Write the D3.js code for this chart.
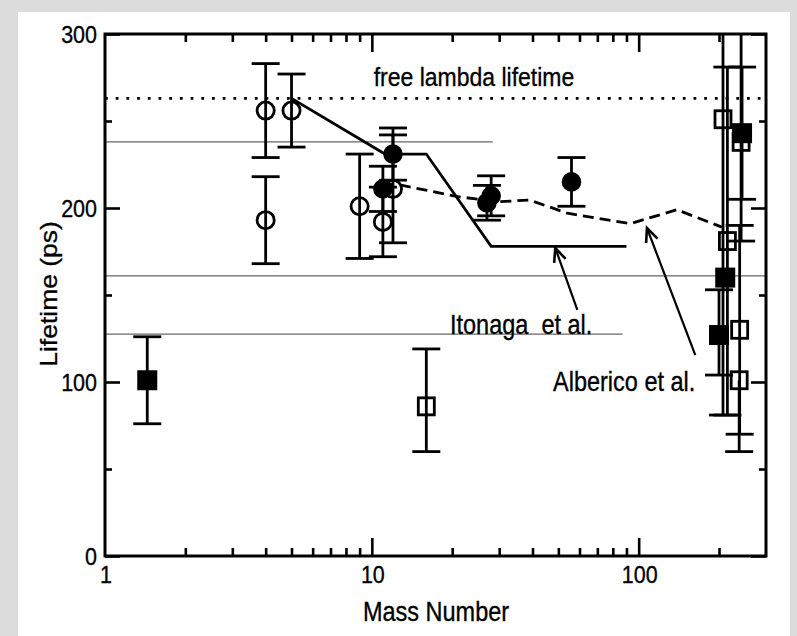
<!DOCTYPE html>
<meta charset="utf-8">
<style>
body { margin:0; background:#dcdcdc; }
svg { display:block; }
text { font-family: "Liberation Sans", Arial, Helvetica, sans-serif; fill:#000; stroke:#000; stroke-width:0.3; white-space:pre; }
</style>
<body>
<svg width="797" height="636" id="vis"></svg>
<script src="https://cdnjs.cloudflare.com/ajax/libs/d3/7.8.5/d3.min.js"></script>
<script>
// tick values
var xMajor = [1, 10, 100],
    xMinor = [2,3,4,5,6,7,8,9,20,30,40,50,60,70,80,90,200],
    yMajor = [0, 100, 200, 300],
    yMinor = [50, 150, 250];

// points: [mass number, lifetime, error up, error down]
var openCircles = [[4,256,27,27],[4,193,25,25],[5,256,21,21],[9,201,30,30],[11,192,20,20],[12,211,31,31]];
var filledCircles = [[11,211,13,13],[12,231,15,15],[27,203,10,10],[28,207,11.5,11.5],[56,215,14,14]];
var filledSquares = [[1.44,101,25,25],[200,127,26,23],[211,160,0,0],[244,243,38,38]];
var openSquares = [[16,86,33,26],[207,251,60,170],[215,181,100,100],[242,238,70,57],[239,130,60,60],[238,101,0,41]];

// theory curves
var itonaga = [[5,263],[11.2,231],[16,231],[28,178],[90,178]];
var alberico = [[11,214],[13,213],[21,206.5],[30,203.6],[39,204.6],[54,197],[93,191],[139,199],[205,189]];

var freeLambda = 263;
// thin horizontal lines: [value, from A, to A]
var refLines = [[238,1,28.4],[161,1,300],[127.5,1,87]];

var svg = d3.select("svg");
svg.append("rect").attr("x",18).attr("y",12).attr("width",772).attr("height",624).attr("fill","#fff");

var x = d3.scaleLog().domain([1,300]).range([105,766]),
    y = d3.scaleLinear().domain([0,300]).range([556,34]);

svg.append("clipPath").attr("id","clip").append("rect")
    .attr("x",105).attr("y",34).attr("width",661).attr("height",522);

var plot = svg.append("g").attr("clip-path","url(#clip)");

// reference lines
refLines.forEach(function(d){
  plot.append("line")
    .attr("x1",x(d[1])).attr("x2",x(d[2]))
    .attr("y1",y(d[0])).attr("y2",y(d[0]))
    .attr("stroke","#666").attr("stroke-width",1.3);
});

plot.append("line")
  .attr("x1",x(1)).attr("x2",x(300))
  .attr("y1",y(freeLambda)).attr("y2",y(freeLambda))
  .attr("stroke","#000").attr("stroke-width",2.8)
  .attr("stroke-dasharray","2.8 7.9");

var line = d3.line().x(function(d){return x(d[0]);}).y(function(d){return y(d[1]);});

plot.append("path").datum(itonaga).attr("d",line)
  .attr("fill","none").attr("stroke","#000").attr("stroke-width",2.8);
plot.append("path").datum(alberico).attr("d",line)
  .attr("fill","none").attr("stroke","#000").attr("stroke-width",2.8)
  .attr("stroke-dasharray","11 6");

// error bars
function bars(data) {
  data.forEach(function(d){
    var cx = x(d[0]);
    plot.append("line").attr("x1",cx).attr("x2",cx)
      .attr("y1",y(d[1]+d[2])).attr("y2",y(d[1]-d[3]))
      .attr("stroke","#000").attr("stroke-width",2.8);
    [[d[2],d[1]+d[2]],[d[3],d[1]-d[3]]].forEach(function(c){
      if (c[0] > 0) {
        plot.append("line").attr("x1",cx-14).attr("x2",cx+14)
          .attr("y1",y(c[1])).attr("y2",y(c[1]))
          .attr("stroke","#000").attr("stroke-width",2.8);
      }
    });
  });
}
[openCircles, filledCircles, filledSquares, openSquares].forEach(bars);

plot.selectAll("circle.open").data(openCircles).enter().append("circle")
  .attr("class","open")
  .attr("cx",function(d){return x(d[0]);}).attr("cy",function(d){return y(d[1]);})
  .attr("r",8.6).attr("fill","none").attr("stroke","#000").attr("stroke-width",2.8);
plot.selectAll("circle.filled").data(filledCircles).enter().append("circle")
  .attr("class","filled")
  .attr("cx",function(d){return x(d[0]);}).attr("cy",function(d){return y(d[1]);})
  .attr("r",9.8).attr("fill","#000");
plot.selectAll("rect.filled").data(filledSquares).enter().append("rect")
  .attr("class","filled")
  .attr("x",function(d){return x(d[0])-10;}).attr("y",function(d){return y(d[1])-10;})
  .attr("width",20).attr("height",20).attr("fill","#000");
plot.selectAll("rect.open").data(openSquares).enter().append("rect")
  .attr("class","open")
  .attr("x",function(d){return x(d[0])-8;}).attr("y",function(d){return y(d[1])-8.5;})
  .attr("width",16).attr("height",17).attr("fill","none")
  .attr("stroke","#000").attr("stroke-width",2.8);

// arrows
function arrow(from, to) {
  var x1 = x(from[0]), y1 = y(from[1]), x2 = x(to[0]), y2 = y(to[1]);
  var a = Math.atan2(y2-y1, x2-x1), len = 15, spread = 0.42;
  svg.append("line").attr("x1",x1).attr("y1",y1).attr("x2",x2).attr("y2",y2)
    .attr("stroke","#000").attr("stroke-width",2.2);
  svg.append("path")
    .attr("d","M"+(x2-len*Math.cos(a-spread))+","+(y2-len*Math.sin(a-spread))+
              "L"+x2+","+y2+
              "L"+(x2-len*Math.cos(a+spread))+","+(y2-len*Math.sin(a+spread)))
    .attr("fill","none").attr("stroke","#000").attr("stroke-width",2.6);
}
arrow([58.9,141.4],[48.7,177]);
arrow([163,115.5],[107.4,188.5]);

// axes ticks (pointing inward, on all four sides)
function ticks(axis, tr, vals, size) {
  var g = svg.append("g").attr("transform",tr)
    .call(axis.tickValues(vals).tickSize(size).tickFormat(""));
  g.select(".domain").remove();
  g.selectAll("line").attr("stroke-width",2.6);
}
ticks(d3.axisBottom(x), "translate(0,556)", xMajor.slice(1), -18);
ticks(d3.axisBottom(x), "translate(0,556)", xMinor, -8);
ticks(d3.axisTop(x), "translate(0,34)", xMajor.slice(1), -18);
ticks(d3.axisTop(x), "translate(0,34)", xMinor, -8);
ticks(d3.axisLeft(y), "translate(105,0)", yMajor, -15);
ticks(d3.axisLeft(y), "translate(105,0)", yMinor, -7);
ticks(d3.axisRight(y), "translate(766,0)", yMajor, -15);
ticks(d3.axisRight(y), "translate(766,0)", yMinor, -7);

svg.append("rect").attr("x",105).attr("y",34).attr("width",661).attr("height",522)
  .attr("fill","none").attr("stroke","#000").attr("stroke-width",3);

// text, slightly tall glyphs like the scanned figure
function label(txt, px, py, size, anchor, rot) {
  var t = "translate(" + px + "," + py + ")" + (rot ? " rotate(" + rot + ") scale(1.15,1)" : " scale(1,1.15)");
  svg.append("text").attr("transform", t).attr("xml:space","preserve")
    .attr("text-anchor", anchor).style("font-size", size + "px").text(txt);
}
yMajor.forEach(function(v){ label(String(v), 97, y(v)+9, 21.5, "end"); });
xMajor.forEach(function(v){ label(String(v), x(v)+1, 583, 21.5, "middle"); });

label("Mass Number", 436, 621, 23.5, "middle");
label("Lifetime (ps)", 57, 294, 23, "middle", -90);
label("free lambda lifetime", 474, 86, 23, "middle");
label("Itonaga  et al.", 450, 334, 23.5, "start");
label("Alberico et al.", 553, 391, 23.5, "start");
</script>
</body>
